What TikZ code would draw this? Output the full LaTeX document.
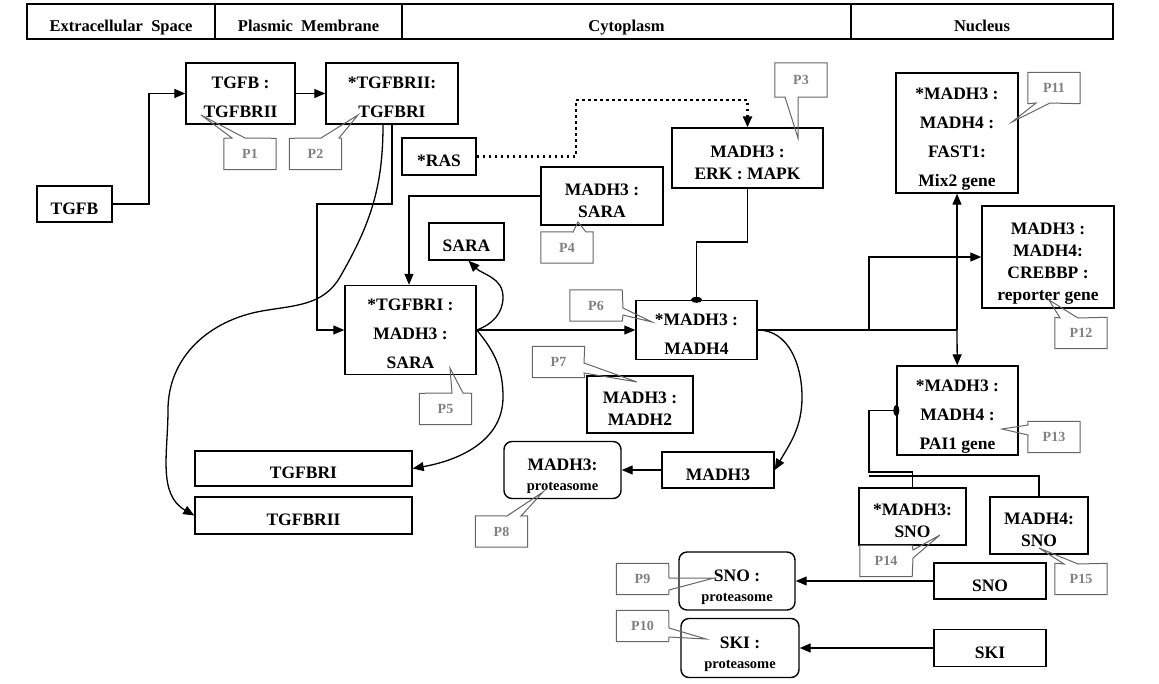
\documentclass[tikz,border=0pt]{standalone}
\usepackage{fontspec}
\setmainfont{Liberation Serif}
\usetikzlibrary{arrows.meta}

\newcommand{\stacked}[1]{\begin{tabular}{@{}c@{}}#1\end{tabular}}

\begin{document}
\begin{tikzpicture}[x=1pt, y=1pt,
    every node/.style={font=\bfseries\fontsize{17.5}{22}\selectfont},
    box/.style={draw, line width=1.4pt, inner sep=0pt, text height=20pt, text depth=0pt},
    tall/.style={box, text height=17pt, font=\bfseries\fontsize{17.5}{29}\selectfont},
    proto/.style={box, rounded corners=8pt, text height=22pt, font=\bfseries\fontsize{17.5}{20}\selectfont},
    head/.style={draw, line width=1.4pt, minimum height=35pt, inner sep=0pt, text height=21pt, text depth=0pt, font=\bfseries\fontsize{16.5}{18}\selectfont},
    note/.style={text=gray, minimum width=52pt, minimum height=31pt, inner sep=0pt, font=\bfseries\fontsize{14}{16}\selectfont},
    noteline/.style={draw=black!60, line width=1pt},
    link/.style={line width=1.3pt},
    arrow/.style={link, -{Triangle[length=11pt, width=9pt]}},
    dot/.style={link, -{Ellipse[length=6pt, width=11pt]}, shorten >=-3pt}
  ]
  \useasboundingbox (0,0) rectangle (1159,-683);

  % Header
  \node[head, minimum width=188pt] (hext) at (121,-21.5) {\stacked{Extracellular\ \ Space}};
  \node[head, minimum width=187pt] (hmem) at (308.5,-21.5) {\stacked{Plasmic\ \ Membrane}};
  \node[head, minimum width=449pt] (hcyt) at (626.5,-21.5) {\stacked{Cytoplasm}};
  \node[head, minimum width=262pt] (hnuc) at (982,-21.5) {\stacked{Nucleus}};

  % Nodes
  \node[box, minimum width=75pt, minimum height=36pt] (tgfb) at (74.5,-204) {\stacked{TGFB}};
  \node[tall, minimum width=109pt, minimum height=61pt] (tgfbr2c) at (240.5,-93.5) {\stacked{TGFB :\\TGFBRII}};
  \node[tall, minimum width=132pt, minimum height=61pt] (tgfbr21) at (392,-93.5) {\stacked{*TGFBRII:\\TGFBRI}};
  \node[box, minimum width=74pt, minimum height=37pt] (ras) at (439,-156.5) {\stacked{*RAS}};
  \node[box, minimum width=122pt, minimum height=58pt] (madhsara) at (602,-196) {\stacked{MADH3 :\\SARA}};
  \node[box, minimum width=151pt, minimum height=60pt] (erk) at (747.5,-158) {\stacked{MADH3 :\\ERK : MAPK}};
  \node[tall, minimum width=122pt, minimum height=120pt] (mix2) at (957,-133) {\stacked{*MADH3 :\\MADH4 :\\FAST1:\\Mix2 gene}};
  \node[box, minimum width=75pt, minimum height=37pt] (sara) at (466.5,-241.5) {\stacked{SARA}};
  \node[tall, minimum width=131pt, minimum height=89pt] (trisara) at (410.5,-330) {\stacked{*TGFBRI :\\MADH3 :\\SARA}};
  \node[tall, minimum width=121pt, minimum height=59pt] (smad34) at (696.5,-330) {\stacked{*MADH3 :\\MADH4}};
  \node[box, minimum width=132pt, minimum height=102pt] (crebbp) at (1048,-257) {\stacked{MADH3 :\\MADH4:\\CREBBP :\\reporter gene}};
  \node[box, minimum width=106pt, minimum height=57pt] (madh2) at (640,-404.5) {\stacked{MADH3 :\\MADH2}};
  \node[tall, minimum width=121pt, minimum height=89pt] (pai1) at (957.5,-410.5) {\stacked{*MADH3 :\\MADH4 :\\PAI1 gene}};
  \node[box, minimum width=217pt, minimum height=35pt] (tgfbri) at (303.5,-468.5) {\stacked{TGFBRI}};
  \node[box, minimum width=217pt, minimum height=37pt] (tgfbrii) at (303.5,-515.5) {\stacked{TGFBRII}};
  \node[proto, minimum width=117pt, minimum height=57pt] (prot3) at (562.5,-470) {\stacked{MADH3:\\{\fontsize{14.5}{16}\selectfont proteasome}}};
  \node[box, minimum width=112pt, minimum height=36pt] (madh3) at (718,-470) {\stacked{MADH3}};
  \node[box, minimum width=107pt, minimum height=57pt] (sno3) at (912.5,-516.5) {\stacked{*MADH3:\\SNO}};
  \node[box, minimum width=98pt, minimum height=57pt] (sno4) at (1039,-525.5) {\stacked{MADH4:\\SNO}};
  \node[box, minimum width=112pt, minimum height=36pt] (sno) at (990,-581) {\stacked{SNO}};
  \node[proto, minimum width=116pt, minimum height=58pt] (protsno) at (737,-581) {\stacked{SNO :\\{\fontsize{14.5}{16}\selectfont proteasome}}};
  \node[box, minimum width=112pt, minimum height=37pt] (ski) at (990,-648) {\stacked{SKI}};
  \node[proto, minimum width=118pt, minimum height=59pt] (protski) at (740,-648) {\stacked{SKI :\\{\fontsize{14.5}{16}\selectfont proteasome}}};

  \coordinate (hub) at (957,-330);
  \coordinate (fork) at (869,-330);

  % Arrows
  \draw[arrow] (tgfb) -- (149,-204) |- (tgfbr2c);
  \draw[arrow] (tgfbr2c) -- (tgfbr21);
  \draw[arrow] (tgfbr21.south) -- (392,-204) -- (317,-204) |- (trisara);
  \draw[arrow] ([xshift=-9pt]tgfbr21.south) to[out=-90,in=60] (340,-277) to[out=-120,in=10] (262,-311)
      to[out=-170,in=90] (168,-410) to[out=-90,in=150] (tgfbrii.west);
  \draw[arrow] (madhsara) -| ([xshift=-1.5pt]trisara.north);
  \draw[arrow] (trisara.east) to[out=20,in=-90] (503,-297) to[out=90,in=-45] ([xshift=2pt]sara.south);
  \draw[arrow] (trisara.east) to[out=-50,in=90] (503,-397) to[out=-90,in=10] (tgfbri.east);
  \draw[arrow] (trisara) -- (smad34);
  \draw[arrow, line width=2.5pt, dash pattern=on 2.5pt off 3.5pt] (ras) -- (576,-156.5) -- (576,-100) -| (erk.north);
  \draw[dot] (erk.south) -- (747.5,-242) -| (smad34.north);
  \draw[link] (smad34.east) -- (hub);
  \draw[arrow] (hub) -- (mix2);
  \draw[arrow] (hub) -- (pai1);
  \draw[arrow] (fork) |- (crebbp);
  \draw[arrow] (smad34.east) to[out=0,in=90] (802,-397) to[out=-90,in=60] (madh3.east);
  \draw[arrow] (madh3) -- (prot3);
  \draw[arrow] (sno) -- (protsno);
  \draw[arrow] (ski) -- (protski);
  \draw[dot] (sno3.north) |- (869,-472) |- (pai1.west);
  \draw[link] (sno4.north) |- (869,-476);

  % Callouts
  \node[note] (p1) at (250,-154) {P1};
  \draw[noteline] (p1.north west) -- (232,-138) -- (201,-115) -- (245,-138) -- (p1.north east) -- (p1.south east) -- (p1.south west) -- cycle;
  \node[note] (p2) at (315.5,-154) {P2};
  \draw[noteline] (p2.north west) -- (321,-138) -- (358,-115) -- (339,-138) -- (p2.north east) -- (p2.south east) -- (p2.south west) -- cycle;
  \node[note, minimum height=34pt] (p3) at (801,-80) {P3};
  \draw[noteline] (p3.north west) -- (p3.north east) -- (p3.south east) -- (798,-97) -- (798,-138) -- (785,-97) -- (p3.south west) -- cycle;
  \node[note] (p4) at (567,-247.5) {P4};
  \draw[noteline] (p4.north west) -- (573,-232) -- (578,-222) -- (586,-232) -- (p4.north east) -- (p4.south east) -- (p4.south west) -- cycle;
  \node[note] (p5) at (445.5,-409) {P5};
  \draw[noteline] (p5.north west) -- (452,-393) -- (450,-368) -- (463,-393) -- (p5.north east) -- (p5.south east) -- (p5.south west) -- cycle;
  \node[note] (p6) at (596,-305.5) {P6};
  \draw[noteline] (p6.north west) -- (p6.north east) -- (623,-308) -- (652,-322) -- (623,-315) -- (p6.south east) -- (p6.south west) -- cycle;
  \node[note] (p7) at (558.5,-362) {P7};
  \draw[noteline] (p7.north west) -- (p7.north east) -- (584,-363) -- (637,-382) -- (584,-373) -- (p7.south east) -- (p7.south west) -- cycle;
  \node[note] (p8) at (501.5,-531.5) {P8};
  \draw[noteline] (p8.north west) -- (507,-516) -- (543,-492) -- (521,-516) -- (p8.north east) -- (p8.south east) -- (p8.south west) -- cycle;
  \node[note] (p9) at (642.5,-579) {P9};
  \draw[noteline] (p9.north west) -- (p9.north east) -- (669,-578) -- (714,-578) -- (669,-590) -- (p9.south east) -- (p9.south west) -- cycle;
  \node[note] (p10) at (642.5,-626) {P10};
  \draw[noteline] (p10.north west) -- (p10.north east) -- (669,-628) -- (706,-639) -- (669,-637) -- (p10.south east) -- (p10.south west) -- cycle;
  \node[note] (p11) at (1054,-88) {P11};
  \draw[noteline] (p11.north west) -- (p11.north east) -- (p11.south east) -- (1050,-103) -- (1012,-122) -- (1036,-103) -- (p11.south west) -- cycle;
  \node[note] (p12) at (1081,-333) {P12};
  \draw[noteline] (p12.north west) -- (1060,-318) -- (1049,-300) -- (1078,-318) -- (p12.north east) -- (p12.south east) -- (p12.south west) -- cycle;
  \node[note] (p13) at (1054,-437) {P13};
  \draw[noteline] (p13.north west) -- (p13.north east) -- (p13.south east) -- (p13.south west) -- (1028,-435) -- (1002,-429) -- (1028,-425) -- cycle;
  \node[note] (p14) at (886,-561) {P14};
  \draw[noteline] (p14.north west) -- (p14.north east) -- (913,-550) -- (940,-535) -- (913,-558) -- (p14.south east) -- (p14.south west) -- cycle;
  \node[note] (p15) at (1081,-579) {P15};
  \draw[noteline] (p15.north west) -- (1064,-564) -- (1039,-548) -- (1078,-564) -- (p15.north east) -- (p15.south east) -- (p15.south west) -- cycle;

\end{tikzpicture}
\end{document}
